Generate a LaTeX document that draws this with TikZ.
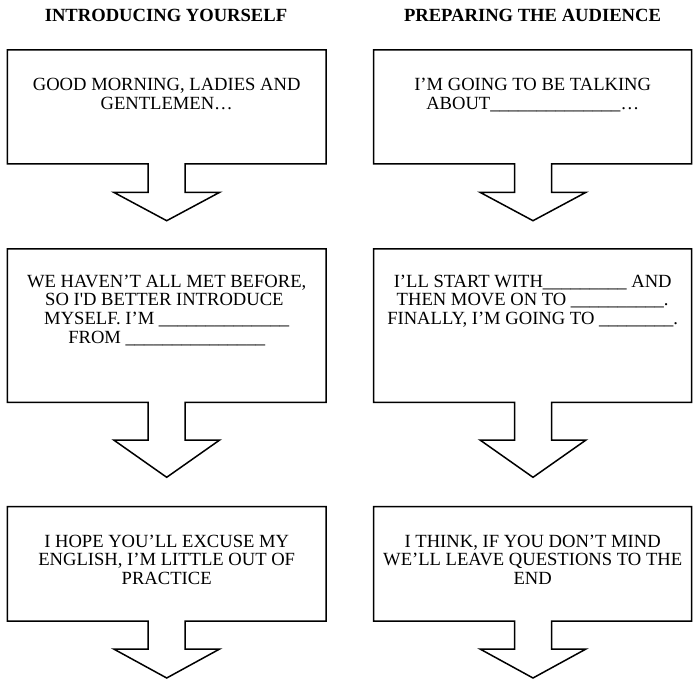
\documentclass[tikz,border=0pt]{standalone}
\usepackage{fontspec}
\setmainfont{Liberation Serif}
\newcommand\calloutoutline[7]{% x1 x2 y1 y2 ystem ytip cx
  \draw[outline] (#1,#3) -- (#2,#3) -- (#2,#4) -- (#7+18.5,#4) -- (#7+18.5,#5)
    -- (#7+53,#5) -- (#7,#6) -- (#7-53,#5) -- (#7-18.5,#5) -- (#7-18.5,#4)
    -- (#1,#4) -- cycle;}
\begin{document}
\begin{tikzpicture}[x=1pt,y=-1pt,
  outline/.style={draw=black, line width=1.5pt, line join=miter},
  heading/.style={font=\bfseries\fontsize{18.6}{18.6}\selectfont, anchor=base, inner sep=0pt},
  boxtext/.style={font=\fontsize{18.6}{18.6}\selectfont, align=center, anchor=north, inner sep=0pt}]
\useasboundingbox (0,0) rectangle (694,679);
\node[heading] (h1) at (166,21.7) {INTRODUCING YOURSELF};
\node[heading] (h2) at (532.5,21.7) {PREPARING THE AUDIENCE};
% left column
\calloutoutline{7.3}{326}{50}{164}{192.3}{220.7}{166.7}
\calloutoutline{7.3}{326}{249}{402.3}{440}{477.3}{166.7}
\calloutoutline{7.3}{326}{506.7}{621}{649}{678}{166.7}
% right column
\calloutoutline{373.7}{691.7}{50}{164}{192.3}{220.7}{533}
\calloutoutline{373.7}{691.7}{249}{402.3}{440}{477.3}{533}
\calloutoutline{373.7}{691.7}{506.7}{621}{649}{678}{533}
% texts
\node[boxtext] (t1) at (166.7,78.2) {GOOD MORNING, LADIES AND\\GENTLEMEN…};
\node[boxtext] (t2) at (532.7,78.2) {I’M GOING TO BE TALKING\\ABOUT\_\_\_\_\_\_\_\_\_\_\_\_\_\_…};
\node[boxtext] (t3) at (166.7,274.8) {WE HAVEN’T ALL MET BEFORE,\\SO I\textquotesingle D BETTER INTRODUCE\kern.25em\\MYSELF. I’M \_\_\_\_\_\_\_\_\_\_\_\_\_\_\\FROM \_\_\_\_\_\_\_\_\_\_\_\_\_\_\_};
\node[boxtext] (t4) at (532.7,274.8) {I’LL START WITH\_\_\_\_\_\_\_\_\_ AND\\THEN MOVE ON TO \_\_\_\_\_\_\_\_\_\_.\\FINALLY, I’M GOING TO \_\_\_\_\_\_\_\_.};
\node[boxtext] (t5) at (166.7,534.5) {I HOPE YOU’LL EXCUSE MY\\ENGLISH, I’M LITTLE OUT OF\\PRACTICE};
\node[boxtext] (t6) at (532.7,534.5) {I THINK, IF YOU DON’T MIND\\WE’LL LEAVE QUESTIONS TO THE\\END};
\end{tikzpicture}
\end{document}
